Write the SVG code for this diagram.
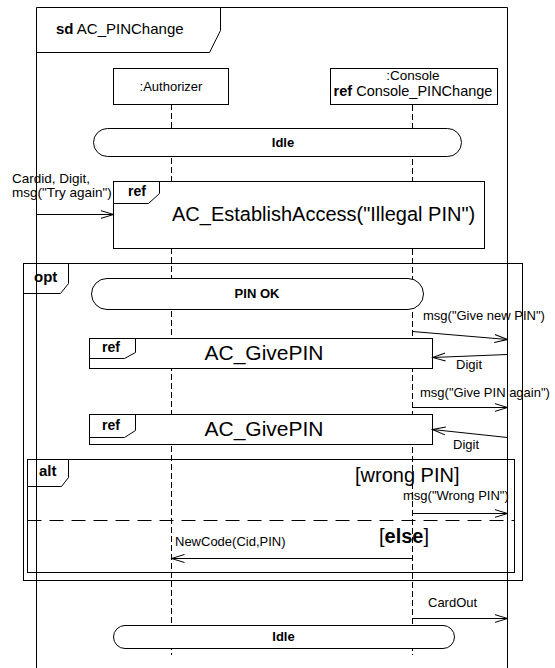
<svg xmlns="http://www.w3.org/2000/svg" width="555" height="668" viewBox="0 0 555 668">
  <defs>
    <style>
      text { font-family: "Liberation Sans", Arial, sans-serif; fill: #000; }
      .b { font-weight: bold; }
      .box { fill: #fff; stroke: #000; stroke-width: 1; }
      .frame { fill: none; stroke: #000; stroke-width: 1; }
      .life { fill: none; stroke: #000; stroke-width: 1; stroke-dasharray: 6 3; }
      .msg { fill: none; stroke: #000; stroke-width: 1; marker-end: url(#open); }
      .sep { fill: none; stroke: #000; stroke-width: 1; stroke-dasharray: 14 8; }
      .m13 { font-size: 13px; }
      .big { font-size: 20px; }
    </style>
    <marker id="open" viewBox="0 0 14 10" refX="13" refY="5" markerWidth="14" markerHeight="10" markerUnits="userSpaceOnUse" orient="auto">
      <path d="M0,1 L13,5 L0,9" fill="none" stroke="#000" stroke-width="1"/>
    </marker>
  </defs>

  <rect x="0" y="0" width="555" height="668" fill="#fff"/>

  <!-- sd frame, open at the bottom -->
  <g id="frame">
    <path class="frame" d="M36.5,668 V7.5 H507.5 V668"/>
    <path class="frame" d="M36.5,52.5 H209.5 L220.5,30.5 V7.5"/>
    <text x="56" y="34" style="font-size:15px"><tspan class="b">sd</tspan> AC_PINChange</text>
  </g>

  <!-- lifelines -->
  <g id="lifelines">
    <line class="life" x1="171.5" y1="104" x2="171.5" y2="655"/>
    <line class="life" x1="412.5" y1="105" x2="412.5" y2="655"/>
  </g>

  <g id="authorizer">
    <rect class="box" x="113.5" y="68.5" width="115" height="36"/>
    <text x="171" y="91" class="m13" text-anchor="middle">:Authorizer</text>
  </g>

  <g id="console">
    <rect class="box" x="330.5" y="68.5" width="167" height="36"/>
    <text x="413" y="80" text-anchor="middle" style="font-size:13.5px">:Console</text>
    <text x="413" y="96" text-anchor="middle" style="font-size:14.5px"><tspan class="b">ref</tspan> Console_PINChange</text>
  </g>

  <g id="idle-top">
    <rect class="box" x="93.5" y="128.5" width="368" height="28" rx="14" ry="14"/>
    <text x="283" y="147" class="m13 b" text-anchor="middle">Idle</text>
  </g>

  <g id="ref-establish">
    <rect class="box" x="113.5" y="181.5" width="371" height="67"/>
    <path class="frame" d="M113.5,203.5 H148.5 L159.5,193.5 V181.5"/>
    <text x="128" y="196" class="b" style="font-size:14px">ref</text>
    <text x="172" y="221" class="big">AC_EstablishAccess("Illegal PIN")</text>
  </g>

  <!-- opt fragment -->
  <g id="opt">
    <rect class="frame" x="23.5" y="263.5" width="499" height="317"/>
    <path class="frame" d="M23.5,293.5 H60.5 L68.5,283.5 V263.5"/>
    <text x="34" y="282" class="b" style="font-size:15px">opt</text>
  </g>

  <g id="pin-ok">
    <rect class="box" x="91.5" y="278.5" width="332" height="31" rx="15.5" ry="15.5"/>
    <text x="257" y="298" class="m13 b" text-anchor="middle">PIN OK</text>
  </g>

  <g id="ref-givepin-1">
    <rect class="box" x="89.5" y="338.5" width="343" height="30"/>
    <path class="frame" d="M89.5,358.5 H124.5 L135.5,352.5 V338.5"/>
    <text x="102" y="352" class="b" style="font-size:14px">ref</text>
    <text x="264" y="360" class="big" text-anchor="middle" style="font-size:21px">AC_GivePIN</text>
  </g>

  <g id="ref-givepin-2">
    <rect class="box" x="89.5" y="414.5" width="343" height="30"/>
    <path class="frame" d="M89.5,437.5 H124.5 L135.5,430.5 V414.5"/>
    <text x="102" y="430" class="b" style="font-size:14px">ref</text>
    <text x="264" y="436" class="big" text-anchor="middle" style="font-size:21px">AC_GivePIN</text>
  </g>

  <!-- alt fragment -->
  <g id="alt">
    <rect class="frame" x="27.5" y="459.5" width="487" height="113"/>
    <path class="frame" d="M27.5,486.5 H61.5 L68.5,477.5 V459.5"/>
    <text x="39" y="476" class="b" style="font-size:15px">alt</text>
    <line class="sep" x1="27.5" y1="520.5" x2="514.5" y2="520.5"/>
    <text x="355" y="482" class="big">[wrong PIN]</text>
    <text x="379" y="543" class="big">[<tspan class="b">else</tspan>]</text>
  </g>

  <g id="idle-bottom">
    <rect class="box" x="113.5" y="625.5" width="341" height="23" rx="11.5" ry="11.5"/>
    <text x="283.5" y="641" class="m13 b" text-anchor="middle">Idle</text>
  </g>

  <!-- messages -->
  <g id="connectors">
    <line class="msg" x1="36.5" y1="214.5" x2="113.5" y2="214.5"/>
    <text x="12" y="183" style="font-size:13.5px">Cardid, Digit,</text>
    <text x="12" y="197" style="font-size:13.5px">msg("Try again")</text>

    <line class="msg" x1="412.5" y1="331.5" x2="507.5" y2="339.5"/>
    <text x="423" y="320" class="m13">msg("Give new PIN")</text>

    <line class="msg" x1="507.5" y1="354.5" x2="432.5" y2="357.5"/>
    <text x="456" y="369" class="m13">Digit</text>

    <line class="msg" x1="412.5" y1="407.5" x2="507.5" y2="407.5"/>
    <text x="420" y="397" class="m13">msg("Give PIN again")</text>

    <line class="msg" x1="507.5" y1="437.5" x2="432.5" y2="429.5"/>
    <text x="453" y="449" class="m13">Digit</text>

    <line class="msg" x1="412.5" y1="513.5" x2="507.5" y2="513.5"/>
    <text x="403" y="500" class="m13">msg("Wrong PIN")</text>

    <line class="msg" x1="412.5" y1="558.5" x2="171.5" y2="558.5"/>
    <text x="175" y="546" class="m13">NewCode(Cid,PIN)</text>

    <line class="msg" x1="412.5" y1="618.5" x2="507.5" y2="618.5"/>
    <text x="428" y="607" class="m13">CardOut</text>
  </g>
</svg>
